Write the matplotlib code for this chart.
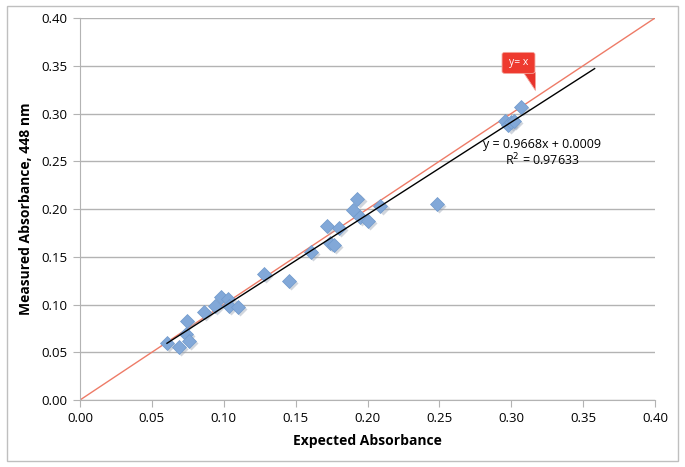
import numpy as np
import matplotlib.pyplot as plt
from matplotlib.patches import Rectangle, FancyBboxPatch, Polygon

# expected vs measured absorbance at 448 nm
expected = [0.0605, 0.069, 0.0744, 0.0737, 0.0758, 0.0863, 0.094, 0.098, 0.103,
            0.1037, 0.110, 0.128, 0.1454, 0.1607, 0.172, 0.174, 0.1767, 0.180,
            0.190, 0.193, 0.195, 0.200, 0.209, 0.248, 0.2957, 0.298, 0.300,
            0.302, 0.307]
measured = [0.0597, 0.0555, 0.0827, 0.069, 0.062, 0.092, 0.098, 0.108, 0.106,
            0.098, 0.097, 0.132, 0.1246, 0.155, 0.182, 0.164, 0.162, 0.180,
            0.199, 0.210, 0.192, 0.187, 0.203, 0.205, 0.292, 0.288, 0.291,
            0.292, 0.307]
slope, intercept = 0.9668, 0.0009
trend_range = [0.0605, 0.358]
ticks = [0.00, 0.05, 0.10, 0.15, 0.20, 0.25, 0.30, 0.35, 0.40]

plt.rcParams['font.family'] = ['Open Sans', 'DejaVu Sans']
fig = plt.figure(figsize=(6.85, 4.67), dpi=100)
ax = fig.add_axes([80/685, 67/467, 575/685, 382/467])

grid_c = '#B3B3B3'
ax.set_xlim(0, 0.40)
ax.set_ylim(0, 0.40)
ax.set_xticks(ticks)
ax.set_yticks(ticks)
ax.set_xticklabels([f"{t:.2f}" for t in ticks])
ax.set_yticklabels([f"{t:.2f}" for t in ticks])
ax.yaxis.grid(True, color=grid_c, lw=1)
ax.set_axisbelow(True)
for s in ('top', 'right'):
    ax.spines[s].set_visible(False)
for s in ('left', 'bottom'):
    ax.spines[s].set_color(grid_c)
ax.tick_params(direction='out', length=5, color=grid_c, labelsize=9.5, pad=4)

# y = x reference line
ax.plot([0, 0.40], [0, 0.40], color='#EE7B67', lw=1, zorder=2)

# data points with faint shadow
ax.plot(np.array(expected) + 0.0015, np.array(measured) - 0.002, 'D', ms=7,
        color='#9AA5B5', alpha=0.45, mec='none', zorder=3)
ax.plot(expected, measured, 'D', ms=7, color='#82A8D8', mec='#7099CC',
        mew=0.5, zorder=4)

# linear trendline
tx = np.array(trend_range)
ax.plot(tx, slope * tx + intercept, color='black', lw=1, zorder=5)

ax.text(0.3215, 0.268, "y = 0.9668x + 0.0009", ha='center', va='center',
        fontsize=9)
ax.text(0.3215, 0.251, "R$^2$ = 0.97633", ha='center', va='center',
        fontsize=9)

ax.set_xlabel("Expected Absorbance", fontsize=10, fontweight='bold', labelpad=6)
ax.set_ylabel("Measured Absorbance, 448 nm", fontsize=10, fontweight='bold',
              labelpad=6)

# callout "y= x"
ax.add_patch(Polygon([(0.3085, 0.343), (0.3163, 0.343), (0.3163, 0.3246)],
                     closed=True, fc='#E8332B', ec='#F4A49B', lw=0.6,
                     zorder=6, clip_on=False))
ax.add_patch(FancyBboxPatch((0.2936, 0.342), 0.0229, 0.022,
                            boxstyle="round,pad=0.0,rounding_size=0.002",
                            fc='#EE3A2F', ec='#F4A49B', lw=0.6, zorder=7,
                            clip_on=False))
ax.text(0.3051, 0.353, "y= x", color='white', ha='center', va='center',
        fontsize=7.5, zorder=8)

# outer chart border
fig.patches.append(Rectangle((7/685, 6/467), 671/685, 455/467,
                             transform=fig.transFigure, fill=False,
                             ec='#BFBFBF', lw=1))

fig.savefig("out.png", dpi=100)
